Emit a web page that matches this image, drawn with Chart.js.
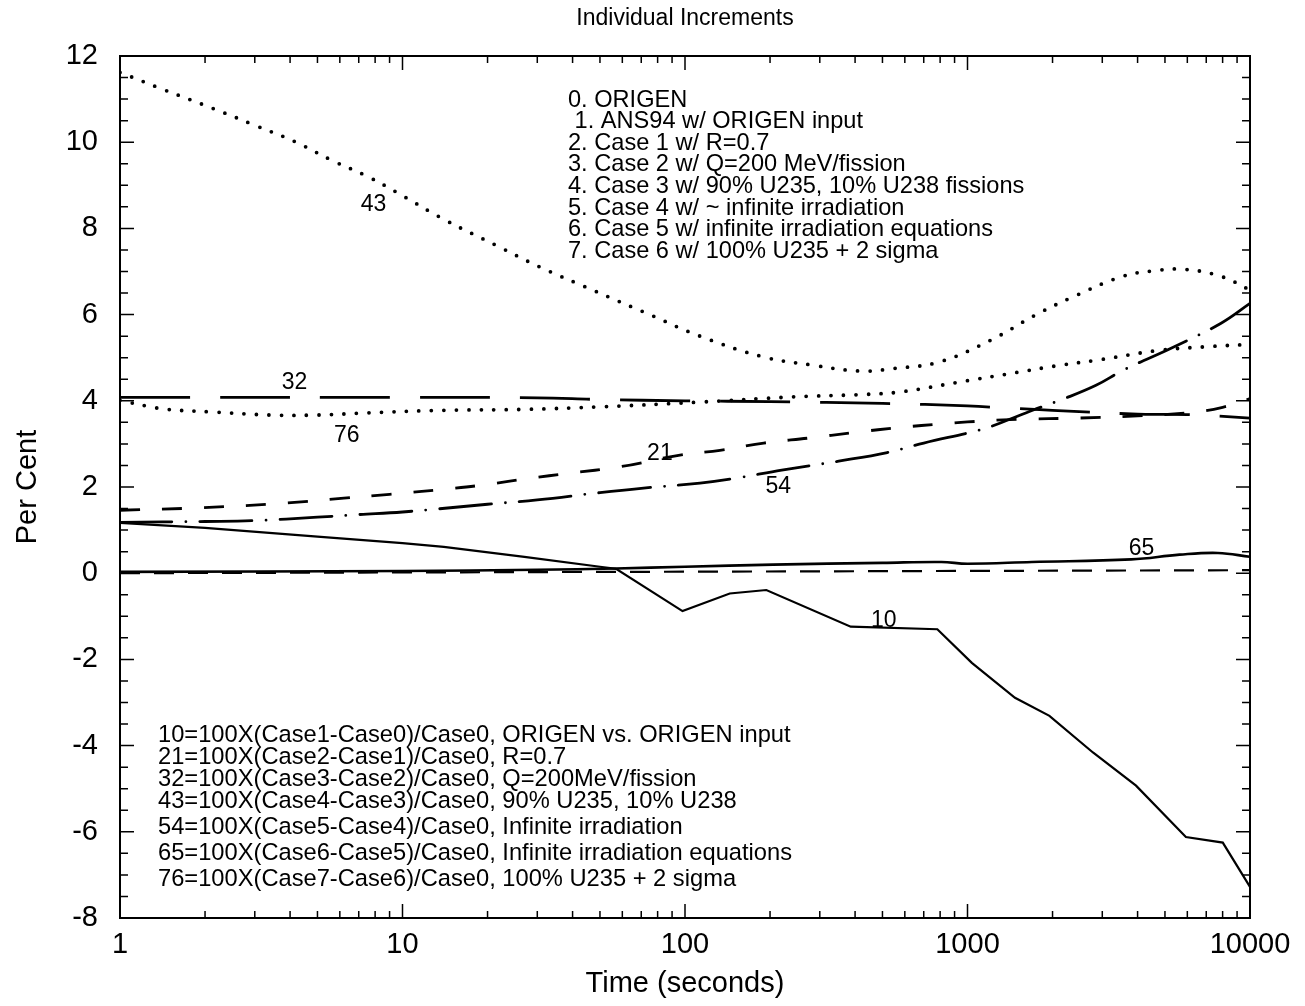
<!DOCTYPE html>
<html>
<head>
<meta charset="utf-8">
<title>Individual Increments</title>
<script src="https://cdn.jsdelivr.net/npm/chart.js@4.4.1/dist/chart.umd.min.js"></script>
<style>
  html, body { margin: 0; padding: 0; background: #fff; }
  #wrap { width: 1305px; height: 1006px; }
</style>
</head>
<body>
<div id="wrap"><canvas id="chart" width="1305" height="1006"></canvas></div>
<script>
// times (s) and per-cent increments for each curve
const t10 = [1, 2, 5, 10, 14, 27, 50, 57, 98, 144, 194, 386, 782, 1036, 1473, 1950, 2780, 3950, 5930, 8010, 10000]
const v10 = [1.17, 1.05, 0.85, 0.7, 0.61, 0.38, 0.15, 0.1, -0.88, -0.47, -0.39, -1.24, -1.3, -2.08, -2.89, -3.31, -4.16, -4.93, -6.12, -6.25, -7.28]

const t21 = [1, 1.95, 3.9, 6.2, 9, 15.2, 20, 28, 39, 59, 96, 133, 190, 278, 390, 595, 793, 1000, 1500, 2500, 4000, 6000, 8000, 10000]
const v21 = [1.46, 1.52, 1.63, 1.74, 1.83, 1.97, 2.06, 2.2, 2.32, 2.47, 2.74, 2.85, 3.02, 3.14, 3.26, 3.39, 3.46, 3.51, 3.57, 3.6, 3.65, 3.72, 3.85, 4.05]

const t32 = [1, 10, 30, 50, 100, 200, 500, 1000, 1500, 2000, 4000, 6000, 10000]
const v32 = [4.08, 4.08, 4.07, 4.03, 4.0, 3.98, 3.94, 3.88, 3.82, 3.78, 3.69, 3.68, 3.6]

const t43 = [1, 1.44, 2.14, 3.01, 4.17, 5.62, 7.6, 9.46, 14.2, 21.4, 30.5, 47.1, 75, 113, 189, 281, 417, 548, 793, 1211, 1740, 2360, 3510, 4480, 5880, 7950, 10000]
const v43 = [11.62, 11.21, 10.78, 10.39, 10.01, 9.58, 9.19, 8.85, 8.19, 7.61, 7.11, 6.57, 6.0, 5.5, 5.02, 4.83, 4.69, 4.75, 4.9, 5.41, 5.99, 6.41, 6.88, 7.01, 7.05, 6.88, 6.57]

const t54 = [1, 2, 3, 5, 7, 10, 20, 30, 50, 70, 113, 150, 220, 350, 520, 700, 1100, 1300, 1700, 2200, 2850, 3560, 5370, 7900, 10000]
const v54 = [1.18, 1.2, 1.22, 1.3, 1.36, 1.42, 1.6, 1.7, 1.87, 1.97, 2.09, 2.2, 2.39, 2.6, 2.8, 3.02, 3.32, 3.48, 3.78, 4.05, 4.36, 4.71, 5.25, 5.8, 6.26]

const t65 = [1, 10, 30, 57, 100, 205, 500, 809, 1000, 1690, 3800, 5630, 7700, 10000]
const v65 = [0.03, 0.05, 0.08, 0.11, 0.15, 0.2, 0.24, 0.26, 0.22, 0.26, 0.32, 0.43, 0.47, 0.38]

const t76 = [1, 1.26, 1.47, 2.14, 3.4, 5, 7.5, 14, 26.6, 50, 113, 240, 440, 585, 945, 1410, 2150, 2860, 4750, 6840, 10000]
const v76 = [4.01, 3.87, 3.8, 3.74, 3.67, 3.67, 3.72, 3.78, 3.8, 3.86, 3.97, 4.09, 4.15, 4.21, 4.44, 4.63, 4.83, 4.94, 5.17, 5.25, 5.31]

// zero reference
const tZero = [1, 10000]
const vZero = [0.0, 0.07]

// curve tags placed next to their lines (time, per cent)
const tagText = ['43', '32', '76', '21', '54', '65', '10']
const tagT = [7.9, 4.15, 6.35, 81.5, 214, 4130, 505]
const tagV = [8.54, 4.41, 3.2, 2.78, 2.0, 0.58, -1.09]

const xTicks = [1, 10, 100, 1000, 10000]

const caseNotes = [
  '0. ORIGEN',
  ' 1. ANS94 w/ ORIGEN input',
  '2. Case 1 w/ R=0.7',
  '3. Case 2 w/ Q=200 MeV/fission',
  '4. Case 3 w/ 90% U235, 10% U238 fissions',
  '5. Case 4 w/ ~ infinite irradiation',
  '6. Case 5 w/ infinite irradiation equations',
  '7. Case 6 w/ 100% U235 + 2 sigma',
]
const curveNotes = [
  '10=100X(Case1-Case0)/Case0, ORIGEN vs. ORIGEN input',
  '21=100X(Case2-Case1)/Case0, R=0.7',
  '32=100X(Case3-Case2)/Case0, Q=200MeV/fission',
  '43=100X(Case4-Case3)/Case0, 90% U235, 10% U238',
  '54=100X(Case5-Case4)/Case0, Infinite irradiation',
  '65=100X(Case6-Case5)/Case0, Infinite irradiation equations',
  '76=100X(Case7-Case6)/Case0, 100% U235 + 2 sigma',
]

const FONT = "'Liberation Sans', Arial, Helvetica, sans-serif"
const pts = (ts, vs) => ts.map((t, i) => ({ x: t, y: vs[i] }))

const line = (label, ts, vs, extra) => Object.assign({
  label,
  data: pts(ts, vs),
  showLine: true,
  borderColor: '#000',
  backgroundColor: '#000',
  borderWidth: 2.2,
  pointRadius: 0,
  tension: 0.4,
  fill: false,
}, extra)

const datasets = [
  line('zero', tZero, vZero, { borderDash: [20, 14], tension: 0 }),
  line('10', t10, v10, { tension: 0 }),
  line('21', t21, v21, { borderWidth: 2.8, borderDash: [20, 22] }),
  line('32', t32, v32, { borderWidth: 2.8, borderDash: [70, 30] }),
  line('43', t43, v43, { borderWidth: 3.8, borderDash: [0, 12.5], borderCapStyle: 'round' }),
  line('54', t54, v54, { borderWidth: 2.8, borderDash: [52, 14, 0, 14], borderCapStyle: 'round' }),
  line('65', t65, v65, { borderWidth: 2.6 }),
  line('76', t76, v76, { borderWidth: 3.8, borderDash: [0, 12.5], borderCapStyle: 'round' }),
]

// axis frame with inward ticks on all four sides
const frameTicks = {
  id: 'frameTicks',
  afterDatasetsDraw(chart) {
    const { ctx, chartArea: a, scales: { x, y } } = chart
    ctx.save()
    ctx.strokeStyle = '#000'
    ctx.lineWidth = 2
    ctx.strokeRect(a.left, a.top, a.right - a.left, a.bottom - a.top)
    ctx.lineWidth = 1.5
    ctx.beginPath()
    for (let v = -8; v <= 12; v += 0.5) {
      const py = y.getPixelForValue(v)
      const len = v % 2 === 0 ? 14 : 8
      ctx.moveTo(a.left, py); ctx.lineTo(a.left + len, py)
      ctx.moveTo(a.right, py); ctx.lineTo(a.right - len, py)
    }
    for (let d = 1; d < 10000; d *= 10) {
      for (let m = 1; m <= 9; m++) {
        const px = x.getPixelForValue(d * m)
        const len = m === 1 ? 14 : 7
        ctx.moveTo(px, a.bottom); ctx.lineTo(px, a.bottom - len)
        ctx.moveTo(px, a.top); ctx.lineTo(px, a.top + len)
      }
    }
    ctx.stroke()
    ctx.restore()
  }
}

// curve tags and the two note blocks
const notes = {
  id: 'notes',
  afterDraw(chart) {
    const { ctx, scales: { x, y } } = chart
    ctx.save()
    ctx.fillStyle = '#000'
    ctx.textBaseline = 'middle'
    ctx.textAlign = 'center'
    ctx.font = `23px ${FONT}`
    tagText.forEach((s, i) => {
      ctx.fillText(s, x.getPixelForValue(tagT[i]), y.getPixelForValue(tagV[i]))
    })
    ctx.textAlign = 'left'
    ctx.font = `23.6px ${FONT}`
    caseNotes.forEach((s, i) => ctx.fillText(s, 568, 100 + i * 21.6))
    ctx.font = `23.7px ${FONT}`
    const rows = [735, 757, 779, 801, 827, 853, 879]
    curveNotes.forEach((s, i) => ctx.fillText(s, 158, rows[i]))
    ctx.restore()
  }
}

new Chart(document.getElementById('chart'), {
  type: 'scatter',
  data: { datasets },
  options: {
    responsive: false,
    animation: false,
    devicePixelRatio: 1,
    layout: { padding: { left: 0, right: 55, top: 0, bottom: 0 } },
    plugins: {
      legend: { display: false },
      tooltip: { enabled: false },
      title: {
        display: true,
        text: 'Individual Increments',
        color: '#000',
        fullSize: false,
        font: { family: FONT, size: 23, weight: 'normal' },
        padding: { top: 5, bottom: 23.4 },
      },
    },
    scales: {
      x: {
        type: 'logarithmic',
        min: 1,
        max: 10000,
        afterBuildTicks: s => { s.ticks = xTicks.map(v => ({ value: v })) },
        afterFit: s => { s.height = 88 },
        grid: { display: false, drawTicks: false },
        border: { display: false },
        ticks: {
          color: '#000',
          padding: 10,
          maxRotation: 0,
          autoSkip: false,
          font: { family: FONT, size: 29 },
          callback: v => String(v),
        },
        title: {
          display: true,
          text: 'Time (seconds)',
          color: '#000',
          font: { family: FONT, size: 29 },
          padding: { top: 0, bottom: 5 },
        },
      },
      y: {
        min: -8,
        max: 12,
        afterFit: s => { s.width = 120 },
        grid: { display: false, drawTicks: false },
        border: { display: false },
        ticks: {
          stepSize: 2,
          color: '#000',
          padding: 22,
          font: { family: FONT, size: 29 },
        },
        title: {
          display: true,
          text: 'Per Cent',
          color: '#000',
          font: { family: FONT, size: 29 },
          padding: { top: 11, bottom: 0 },
        },
      },
    },
  },
  plugins: [frameTicks, notes],
})
</script>
</body>
</html>
